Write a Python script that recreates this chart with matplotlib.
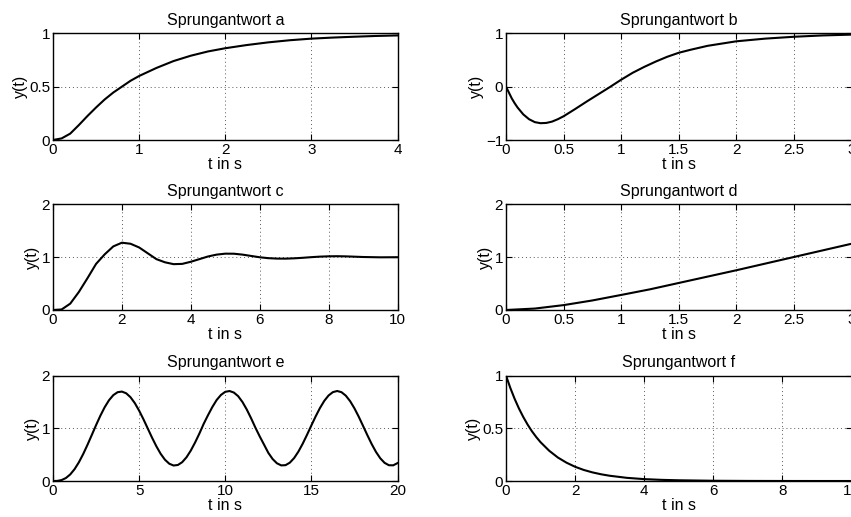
import matplotlib
matplotlib.use("Agg")
import matplotlib.pyplot as plt
from matplotlib.ticker import FixedLocator, FuncFormatter

plt.rcParams['font.family'] = ['Liberation Sans', 'DejaVu Sans']

# Sprungantwort a
t_a = [0, 0.1, 0.2, 0.3, 0.4, 0.5, 0.6, 0.7, 0.8, 0.9, 1.0, 1.2, 1.4, 1.6, 1.8,
       2.0, 2.25, 2.5, 2.75, 3.0, 3.25, 3.5, 3.75, 4.0]
y_a = [0, 0.015, 0.06, 0.14, 0.225, 0.305, 0.38, 0.445, 0.50, 0.555, 0.60, 0.675,
       0.74, 0.79, 0.83, 0.86, 0.89, 0.915, 0.935, 0.95, 0.96, 0.968, 0.975, 0.98]

# Sprungantwort b
t_b = [0, 0.025, 0.05, 0.075, 0.1, 0.15, 0.2, 0.25, 0.3, 0.35, 0.4, 0.45, 0.5,
       0.6, 0.7, 0.8, 0.9, 1.0, 1.1, 1.2, 1.3, 1.4, 1.5, 1.6, 1.75, 2.0, 2.25,
       2.5, 2.75, 3.0]
y_b = [0, -0.11, -0.22, -0.31, -0.39, -0.52, -0.61, -0.665, -0.685, -0.68,
       -0.655, -0.61, -0.555, -0.42, -0.28, -0.145, -0.01, 0.13, 0.26, 0.37,
       0.47, 0.56, 0.635, 0.69, 0.765, 0.85, 0.90, 0.935, 0.96, 0.975]

# Sprungantwort c
t_c = [0, 0.25, 0.5, 0.75, 1.0, 1.25, 1.5, 1.75, 2.0, 2.25, 2.5, 2.75, 3.0,
       3.25, 3.5, 3.75, 4.0, 4.25, 4.5, 4.75, 5.0, 5.25, 5.5, 5.75, 6.0, 6.25,
       6.5, 6.75, 7.0, 7.25, 7.5, 7.75, 8.0, 8.25, 8.5, 8.75, 9.0, 9.5, 10.0]
y_c = [0, 0.01, 0.12, 0.34, 0.60, 0.87, 1.05, 1.20, 1.27, 1.25, 1.18, 1.07,
       0.96, 0.90, 0.865, 0.87, 0.91, 0.96, 1.01, 1.045, 1.063, 1.062, 1.045,
       1.02, 0.995, 0.978, 0.97, 0.969, 0.975, 0.985, 0.997, 1.007, 1.013,
       1.015, 1.012, 1.006, 1.0, 0.994, 0.996]

# Sprungantwort d
t_d = [0, 0.25, 0.5, 0.75, 1.0, 1.25, 1.5, 1.75, 2.0, 2.25, 2.5, 2.75, 3.0]
y_d = [0, 0.027, 0.092, 0.18, 0.284, 0.39, 0.51, 0.63, 0.75, 0.875, 1.0, 1.125, 1.25]

# Sprungantwort e
t_e = [i * 0.25 for i in range(81)]
y_e = [0.0, 0.0024, 0.0182, 0.0571, 0.1252, 0.2245, 0.3543, 0.5102, 0.6857,
       0.8723, 1.0603, 1.2393, 1.3996, 1.5318, 1.6286, 1.6843, 1.6960, 1.6635,
       1.5886, 1.4766, 1.3342, 1.1712, 0.9964, 0.8219, 0.6584, 0.5159, 0.4033,
       0.3279, 0.2940, 0.3041, 0.3574, 0.4505, 0.5778, 0.7316, 0.9017, 1.0859,
       1.2495, 1.4033, 1.5362, 1.6323, 1.6916, 1.7065, 1.6776, 1.6086, 1.4978,
       1.3552, 1.1901, 1.0122, 0.8463, 0.6911, 0.5342, 0.4171, 0.3362, 0.2964,
       0.3006, 0.3483, 0.4363, 0.5595, 0.7100, 0.8787, 1.0547, 1.2269, 1.3855,
       1.5207, 1.6228, 1.6859, 1.7071, 1.6841, 1.6183, 1.5142, 1.3781, 1.2193,
       1.0454, 0.8697, 0.7017, 0.5521, 0.4307, 0.3446, 0.2993, 0.2975, 0.3395]

# Sprungantwort f
t_f = [0, 0.125, 0.25, 0.375, 0.5, 0.625, 0.75, 0.875, 1.0, 1.25, 1.5, 1.75,
       2.0, 2.25, 2.5, 2.75, 3.0, 3.5, 4.0, 4.5, 5.0, 6.0, 7.0, 8.0, 9.0, 10.0]
y_f = [1.0, 0.8825, 0.779, 0.6873, 0.607, 0.5353, 0.472, 0.4169, 0.368, 0.287,
       0.223, 0.174, 0.135, 0.105, 0.082, 0.064, 0.050, 0.030, 0.018, 0.011,
       0.007, 0.0025, 0.0009, 0.0003, 0.0001, 0.00005]

panels = [
    ("a", t_a, y_a, [0, 1, 2, 3, 4], [0, 0.5, 1], (0, 4), (0, 1)),
    ("b", t_b, y_b, [0, 0.5, 1, 1.5, 2, 2.5, 3], [-1, 0, 1], (0, 3), (-1, 1)),
    ("c", t_c, y_c, [0, 2, 4, 6, 8, 10], [0, 1, 2], (0, 10), (0, 2)),
    ("d", t_d, y_d, [0, 0.5, 1, 1.5, 2, 2.5, 3], [0, 1, 2], (0, 3), (0, 2)),
    ("e", t_e, y_e, [0, 5, 10, 15, 20], [0, 1, 2], (0, 20), (0, 2)),
    ("f", t_f, y_f, [0, 2, 4, 6, 8, 10], [0, 0.5, 1], (0, 10), (0, 1)),
]

# axes boxes in figure fractions (left, bottom, width, height)
lefts = [0.0623, 0.5946]
widths = [0.4048, 0.4060]
bottoms = [0.7292, 0.4004, 0.0696]
heights = [0.2064, 0.2050, 0.2040]


def fmt(v, pos=None):
    return f"{v:g}".replace('-', '\u2212')


fig = plt.figure(figsize=(8.51, 5.17), dpi=100)

for i, (name, t, y, xt, yt, xl, yl) in enumerate(panels):
    row, col = divmod(i, 2)
    ax = fig.add_axes([lefts[col], bottoms[row], widths[col], heights[row]])
    ax.plot(t, y, color='k', linewidth=1.5)
    ax.set_xlim(*xl)
    ax.set_ylim(*yl)
    ax.xaxis.set_major_locator(FixedLocator(xt))
    ax.yaxis.set_major_locator(FixedLocator(yt))
    ax.xaxis.set_major_formatter(FuncFormatter(fmt))
    ax.yaxis.set_major_formatter(FuncFormatter(fmt))
    ax.grid(True, color='0.35', linestyle=(0, (1, 3)), linewidth=0.7)
    ax.tick_params(direction='in', top=True, right=True, length=4,
                   width=0.8, labelsize=11, pad=2)
    for sp in ax.spines.values():
        sp.set_linewidth(1.0)
    ax.set_title("Sprungantwort " + name, fontsize=11.5, pad=6)
    ax.set_xlabel("t in s", fontsize=11.5, labelpad=0)
    ax.set_ylabel("y(t)", fontsize=11.5, labelpad=1)

fig.savefig("out.png", dpi=100)
